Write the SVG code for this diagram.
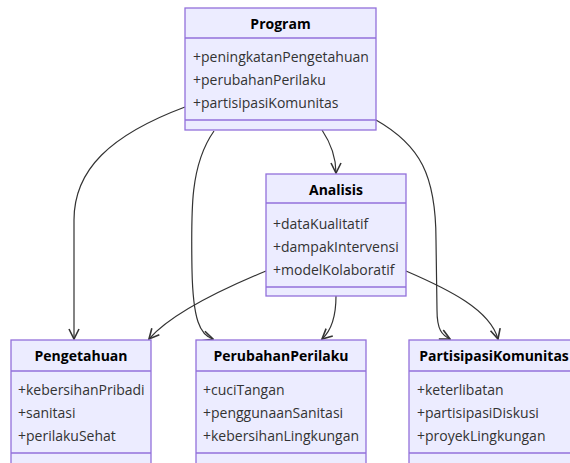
<svg xmlns="http://www.w3.org/2000/svg" width="570" height="463" viewBox="0 0 570 463">
<defs>
<style>
.box{fill:#ECECFF;stroke:#9370DB;stroke-width:1.3}
.div{stroke:#9370DB;stroke-width:1.3}
.hdr{font-family:"Open Sans","Noto Sans",sans-serif;font-size:14px;font-weight:bold;fill:#000;text-anchor:middle}
.attr{font-family:"Open Sans","Noto Sans",sans-serif;font-size:14px;fill:#333}
.edge{fill:none;stroke:#333;stroke-width:1.2}
</style>
<marker id="arr" viewBox="0 0 12 12" refX="11" refY="6" markerWidth="12" markerHeight="12" orient="auto" markerUnits="userSpaceOnUse">
<path d="M1,1 L11,6 L1,11" fill="none" stroke="#333" stroke-width="1.6"/>
</marker>
</defs>
<rect width="570" height="463" fill="#fff"/>
<g id="connectors">
<path class="edge" marker-end="url(#arr)" d="M185,107 C110,135 74,170 74,220 L74,339"/>
<path class="edge" marker-end="url(#arr)" d="M214,131 C190,165 191,210 192,270 C193,320 200,335 213,339"/>
<path class="edge" marker-end="url(#arr)" d="M322,130 C330,142 336,155 336,173"/>
<path class="edge" marker-end="url(#arr)" d="M376,120 C420,145 436,175 436,240 L437,310 C437,330 442,335 450,339"/>
<path class="edge" marker-end="url(#arr)" d="M266,271 C220,290 170,315 149,339"/>
<path class="edge" marker-end="url(#arr)" d="M336,296 C336,315 332,330 322,339"/>
<path class="edge" marker-end="url(#arr)" d="M406,271 C450,290 490,310 498,339"/>
</g>
<g id="Program">
<rect class="box" x="185" y="8" width="191" height="122"/>
<line class="div" x1="185" y1="38" x2="376" y2="38"/>
<line class="div" x1="185" y1="120" x2="376" y2="120"/>
<text class="hdr" x="280.5" y="29">Program</text>
<text class="attr" x="193" y="62">+peningkatanPengetahuan</text>
<text class="attr" x="193" y="85">+perubahanPerilaku</text>
<text class="attr" x="193" y="108">+partisipasiKomunitas</text>
</g>
<g id="Analisis">
<rect class="box" x="266" y="174" width="140" height="122"/>
<line class="div" x1="266" y1="203" x2="406" y2="203"/>
<line class="div" x1="266" y1="287" x2="406" y2="287"/>
<text class="hdr" x="336" y="195">Analisis</text>
<text class="attr" x="273" y="229">+dataKualitatif</text>
<text class="attr" x="273" y="252">+dampakIntervensi</text>
<text class="attr" x="273" y="275">+modelKolaboratif</text>
</g>
<g id="Pengetahuan">
<rect class="box" x="11" y="340" width="140" height="130"/>
<line class="div" x1="11" y1="371" x2="151" y2="371"/>
<line class="div" x1="11" y1="453" x2="151" y2="453"/>
<text class="hdr" x="81" y="361">Pengetahuan</text>
<text class="attr" x="18" y="395">+kebersihanPribadi</text>
<text class="attr" x="18" y="418">+sanitasi</text>
<text class="attr" x="18" y="441">+perilakuSehat</text>
</g>
<g id="PerubahanPerilaku">
<rect class="box" x="196" y="340" width="170" height="130"/>
<line class="div" x1="196" y1="371" x2="366" y2="371"/>
<line class="div" x1="196" y1="453" x2="366" y2="453"/>
<text class="hdr" x="281" y="361">PerubahanPerilaku</text>
<text class="attr" x="203" y="395">+cuciTangan</text>
<text class="attr" x="203" y="418">+penggunaanSanitasi</text>
<text class="attr" x="203" y="441">+kebersihanLingkungan</text>
</g>
<g id="PartisipasiKomunitas">
<rect class="box" x="409" y="340" width="170" height="130"/>
<line class="div" x1="409" y1="371" x2="579" y2="371"/>
<line class="div" x1="409" y1="453" x2="579" y2="453"/>
<text class="hdr" x="494" y="361">PartisipasiKomunitas</text>
<text class="attr" x="417" y="395">+keterlibatan</text>
<text class="attr" x="417" y="418">+partisipasiDiskusi</text>
<text class="attr" x="417" y="441">+proyekLingkungan</text>
</g>
</svg>
